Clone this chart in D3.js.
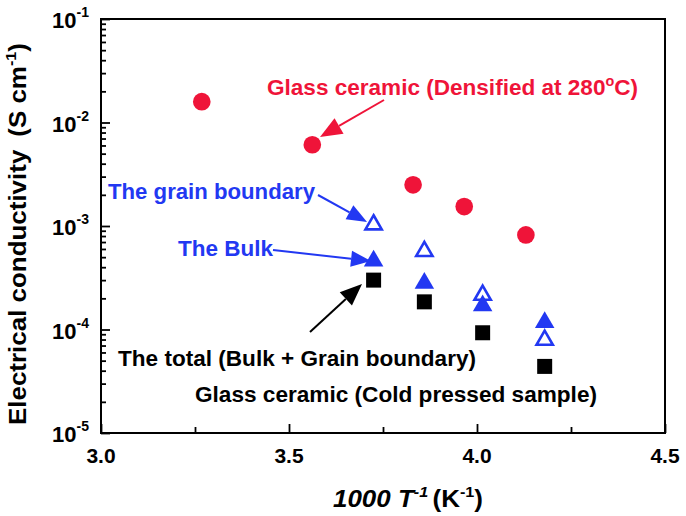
<!DOCTYPE html>
<html>
<head>
<meta charset="utf-8">
<script src="https://cdn.jsdelivr.net/npm/d3@7"></script>
<style>
  body { margin: 0; background: #fff; }
  text { font-family: "Liberation Sans", Arial, sans-serif; font-weight: bold; }
</style>
</head>
<body>
<svg width="686" height="516"></svg>
<script>
const svg = d3.select("svg");

// data (1000/T in K^-1, conductivity in S/cm)
const densifiedX = [3.268, 3.562, 3.830, 3.966, 4.130];
const densifiedY = [1.59e-2, 6.1e-3, 2.5e-3, 1.54e-3, 8.2e-4];

const coldX = [3.725, 3.86, 4.015, 4.18];
const grainY = [1.03e-3, 5.7e-4, 2.15e-4, 7.9e-5];
const bulkY = [4.6e-4, 2.8e-4, 1.7e-4, 1.17e-4];
const totalY = [3.0e-4, 1.85e-4, 9.3e-5, 4.4e-5];

const xTicks = [3.0, 3.5, 4.0, 4.5];
const xMinorTicks = [3.25, 3.75, 4.25];
const yExponents = [-5, -4, -3, -2, -1];

const red = "#ef1439";
const blue = "#2238f2";

const x = d3.scaleLinear().domain([3.0, 4.5]).range([101, 665]);
const y = d3.scaleLog().domain([1e-5, 1e-1]).range([433, 19]);

// frame
svg.append("rect")
  .attr("x", 101).attr("y", 19)
  .attr("width", 564).attr("height", 414)
  .attr("fill", "none")
  .attr("stroke", "#000")
  .attr("stroke-width", 2);

// ticks (inward)
const yMajor = yExponents.map(e => Math.pow(10, e));
const yMinor = [];
yExponents.slice(0, -1).forEach(e => {
  d3.range(2, 10).forEach(m => yMinor.push(m * Math.pow(10, e)));
});

const yAxisMajor = svg.append("g")
  .attr("transform", "translate(101,0)")
  .call(d3.axisLeft(y).tickValues(yMajor).tickSize(-9).tickFormat(""));
const yAxisMinor = svg.append("g")
  .attr("transform", "translate(101,0)")
  .call(d3.axisLeft(y).tickValues(yMinor).tickSize(-5).tickFormat(""));
const xAxisMajor = svg.append("g")
  .attr("transform", "translate(0,433)")
  .call(d3.axisBottom(x).tickValues(xTicks).tickSize(-9).tickFormat(""));
const xAxisMinor = svg.append("g")
  .attr("transform", "translate(0,433)")
  .call(d3.axisBottom(x).tickValues(xMinorTicks).tickSize(-6).tickFormat(""));

[yAxisMajor, yAxisMinor, xAxisMajor, xAxisMinor].forEach(g => {
  g.select(".domain").remove();
  g.selectAll("line").attr("stroke", "#000").attr("stroke-width", 1.8);
});

// tick labels
svg.selectAll(".xlab")
  .data(xTicks)
  .enter().append("text")
    .attr("class", "xlab")
    .attr("x", d => x(d))
    .attr("y", 463)
    .attr("text-anchor", "middle")
    .attr("font-size", 21)
    .text(d => d.toFixed(1));

const ylab = svg.selectAll(".ylab")
  .data(yExponents)
  .enter().append("text")
    .attr("class", "ylab")
    .attr("x", 89)
    .attr("y", d => y(Math.pow(10, d)) + 9)
    .attr("text-anchor", "end")
    .attr("font-size", 22);
ylab.append("tspan").text("10");
ylab.append("tspan")
  .attr("font-size", 14)
  .attr("dy", -11)
  .text(d => d);

// axis titles
const yTitle = svg.append("text")
  .attr("transform", "translate(26,234) rotate(-90)")
  .attr("text-anchor", "middle")
  .attr("font-size", 24)
  .attr("textLength", 382)
  .attr("lengthAdjust", "spacingAndGlyphs");
yTitle.append("tspan").text("Electrical conductivity");
yTitle.append("tspan").attr("dx", 12).text("(S cm");
yTitle.append("tspan").attr("font-size", 15).attr("dy", -10).text("-1");
yTitle.append("tspan").attr("dy", 10).text(")");

const xTitle = svg.append("text")
  .attr("x", 408)
  .attr("y", 507)
  .attr("text-anchor", "middle")
  .attr("font-size", 24)
  .attr("textLength", 150)
  .attr("lengthAdjust", "spacingAndGlyphs");
xTitle.append("tspan").attr("font-style", "italic").text("1000 T");
xTitle.append("tspan").attr("font-style", "italic").attr("font-size", 15).attr("dy", -10).text("-1");
xTitle.append("tspan").attr("dy", 10).attr("dx", 4).text("(K");
xTitle.append("tspan").attr("font-size", 15).attr("dy", -10).text("-1");
xTitle.append("tspan").attr("dy", 10).text(")");

// markers
const pts = (xs, ys) => xs.map((d, i) => ({ x: d, y: ys[i] }));

const drawSeries = (data, symbolType, size, fill, stroke, strokeWidth) => {
  svg.append("g")
    .selectAll("path")
    .data(data)
    .enter().append("path")
      .attr("transform", d => `translate(${x(d.x)},${y(d.y)})`)
      .attr("d", d3.symbol().type(symbolType).size(size))
      .attr("fill", fill)
      .attr("stroke", stroke)
      .attr("stroke-width", strokeWidth);
};

drawSeries(pts(densifiedX, densifiedY), d3.symbolCircle, 245, red, "none", 0);
drawSeries(pts(coldX, totalY), d3.symbolSquare, 225, "#000", "none", 0);
drawSeries(pts(coldX, bulkY), d3.symbolTriangle, 165, blue, "none", 0);
drawSeries(pts(coldX, grainY), d3.symbolTriangle, 115, "none", blue, 2.6);

// annotation arrows
const arrow = (x1, y1, x2, y2, color, headLen, headHalf) => {
  const a = Math.atan2(y2 - y1, x2 - x1);
  const bx = x2 - headLen * Math.cos(a), by = y2 - headLen * Math.sin(a);
  svg.append("line")
    .attr("x1", x1).attr("y1", y1)
    .attr("x2", bx).attr("y2", by)
    .attr("stroke", color)
    .attr("stroke-width", 2);
  const px = -Math.sin(a) * headHalf, py = Math.cos(a) * headHalf;
  svg.append("polygon")
    .attr("points", [[x2, y2], [bx + px, by + py], [bx - px, by - py]].join(" "))
    .attr("fill", color);
};

arrow(384, 100, 320, 137, red, 22, 9);
arrow(318, 195, 367, 222, blue, 20, 8);
arrow(273, 250, 371, 261, blue, 20, 8);
arrow(310, 332, 362, 284, "#000", 22, 9);

// annotation text
const label = (tx, ty, color, width, parts) => {
  const t = svg.append("text")
    .attr("x", tx).attr("y", ty)
    .attr("fill", color)
    .attr("font-size", 22)
    .attr("textLength", width)
    .attr("lengthAdjust", "spacingAndGlyphs");
  parts.forEach(p => {
    const s = t.append("tspan").text(p.text);
    if (p.sup) s.attr("font-size", 14).attr("dy", -9);
    if (p.down) s.attr("dy", 9);
  });
};

label(267, 95, red, 371, [{ text: "Glass ceramic (Densified at 280" }, { text: "o", sup: true }, { text: "C)", down: true }]);
label(108, 199, blue, 207, [{ text: "The grain boundary" }]);
label(178, 256, blue, 95, [{ text: "The Bulk" }]);
label(118, 366, "#000", 358, [{ text: "The total (Bulk + Grain boundary)" }]);
label(195, 402, "#000", 402, [{ text: "Glass ceramic (Cold pressed sample)" }]);
</script>
</body>
</html>
